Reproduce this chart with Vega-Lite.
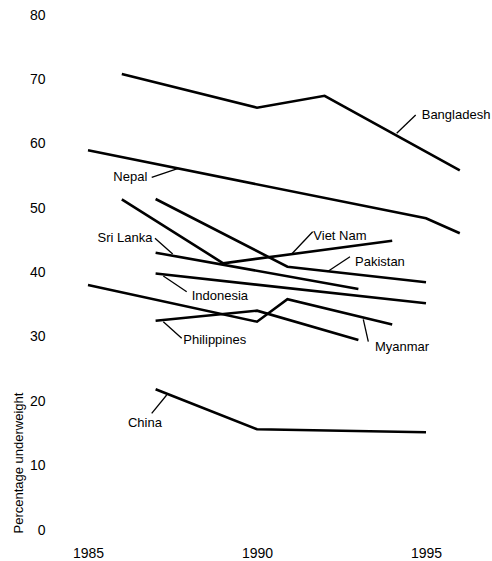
{
  "$schema": "https://vega.github.io/schema/vega-lite/v6.json",
  "width": 432,
  "height": 515,
  "autosize": {"type": "none"},
  "padding": {"left": 58, "top": 15, "right": 2, "bottom": 31},
  "background": "white",
  "config": {
    "view": {"stroke": null},
    "font": "Liberation Sans"
  },
  "datasets": {
    "series": [
      {"country": "Bangladesh", "year": 1986, "value": 70.83},
      {"country": "Bangladesh", "year": 1990, "value": 65.6},
      {"country": "Bangladesh", "year": 1992, "value": 67.45},
      {"country": "Bangladesh", "year": 1996, "value": 55.88},
      {"country": "Nepal", "year": 1985, "value": 58.98},
      {"country": "Nepal", "year": 1995, "value": 48.42},
      {"country": "Nepal", "year": 1996, "value": 46.09},
      {"country": "Viet Nam", "year": 1986, "value": 51.37},
      {"country": "Viet Nam", "year": 1989, "value": 41.43},
      {"country": "Viet Nam", "year": 1994, "value": 44.94},
      {"country": "Pakistan", "year": 1987, "value": 51.42},
      {"country": "Pakistan", "year": 1990.9, "value": 40.9},
      {"country": "Pakistan", "year": 1995, "value": 38.48},
      {"country": "Sri Lanka", "year": 1987, "value": 43.08},
      {"country": "Sri Lanka", "year": 1993, "value": 37.44},
      {"country": "Indonesia", "year": 1987, "value": 39.84},
      {"country": "Indonesia", "year": 1995, "value": 35.22},
      {"country": "Myanmar", "year": 1985, "value": 38.06},
      {"country": "Myanmar", "year": 1990, "value": 32.36},
      {"country": "Myanmar", "year": 1990.9, "value": 35.84},
      {"country": "Myanmar", "year": 1994, "value": 31.91},
      {"country": "Philippines", "year": 1987, "value": 32.51},
      {"country": "Philippines", "year": 1990, "value": 34.07},
      {"country": "Philippines", "year": 1993, "value": 29.51},
      {"country": "China", "year": 1987, "value": 21.86},
      {"country": "China", "year": 1990, "value": 15.64},
      {"country": "China", "year": 1995, "value": 15.18}
    ],
    "labels": [
      {"label": "Bangladesh", "year": 1994.873, "value": 63.77},
      {"label": "Nepal", "year": 1985.749, "value": 54.29},
      {"label": "Sri Lanka", "year": 1985.281, "value": 44.78},
      {"label": "Viet Nam", "year": 1991.666, "value": 45.05},
      {"label": "Pakistan", "year": 1992.899, "value": 41.01},
      {"label": "Indonesia", "year": 1988.068, "value": 35.73},
      {"label": "Philippines", "year": 1987.82, "value": 28.82},
      {"label": "Myanmar", "year": 1993.491, "value": 27.88},
      {"label": "China", "year": 1986.183, "value": 16.0}
    ],
    "leaders": [
      {"year": 1994.133, "value": 61.62, "year2": 1994.695, "value2": 64.47},
      {"year": 1986.885, "value": 54.79, "year2": 1987.672, "value2": 56.19},
      {"year": 1986.982, "value": 45.31, "year2": 1987.506, "value2": 42.87},
      {"year": 1991.648, "value": 46.34, "year2": 1991.027, "value2": 42.87},
      {"year": 1992.751, "value": 42.45, "year2": 1992.08, "value2": 40.12},
      {"year": 1987.92, "value": 37.02, "year2": 1987.228, "value2": 39.46},
      {"year": 1987.772, "value": 29.78, "year2": 1987.228, "value2": 32.36},
      {"year": 1993.293, "value": 29.25, "year2": 1993.145, "value2": 32.73},
      {"year": 1986.885, "value": 18.13, "year2": 1987.328, "value2": 20.97}
    ]
  },
  "layer": [
    {
      "data": {"name": "series"},
      "mark": {"type": "line", "color": "black", "strokeWidth": 2.6},
      "encoding": {
        "x": {
          "field": "year", "type": "quantitative",
          "scale": {"domain": [1984.1124, 1996.8935], "nice": false, "zero": false},
          "axis": {
            "values": [1985, 1990, 1995], "format": "d", "title": null,
            "grid": false, "domain": false, "ticks": false, "tickSize": 0,
            "labelPadding": 27.5, "labelBaseline": "alphabetic",
            "labelFontSize": 14, "labelColor": "black", "labelFlush": false, "labelOverlap": false
          }
        },
        "y": {
          "field": "value", "type": "quantitative",
          "scale": {"domain": [0, 80], "nice": false},
          "axis": {
            "values": [0, 10, 20, 30, 40, 50, 60, 70, 80],
            "title": "Percentage underweight",
            "grid": false, "domain": false, "ticks": false, "tickSize": 0,
            "labelPadding": 13, "labelFontSize": 14, "labelColor": "black",
            "labelFlush": false, "labelOverlap": false,
            "titleFontSize": 13, "titleFontWeight": "normal", "titleColor": "black",
            "titleX": -35.5, "titleY": 518, "titleAlign": "left", "titleAngle": -90,
            "titleBaseline": "alphabetic"
          }
        },
        "detail": {"field": "country"}
      }
    },
    {
      "data": {"name": "leaders"},
      "mark": {"type": "rule", "color": "black", "strokeWidth": 1.3},
      "encoding": {
        "x": {"field": "year", "type": "quantitative"},
        "y": {"field": "value", "type": "quantitative"},
        "x2": {"field": "year2"},
        "y2": {"field": "value2"}
      }
    },
    {
      "data": {"name": "labels"},
      "mark": {"type": "text", "align": "left", "baseline": "alphabetic", "fontSize": 13, "color": "black"},
      "encoding": {
        "x": {"field": "year", "type": "quantitative"},
        "y": {"field": "value", "type": "quantitative"},
        "text": {"field": "label"}
      }
    }
  ]
}
